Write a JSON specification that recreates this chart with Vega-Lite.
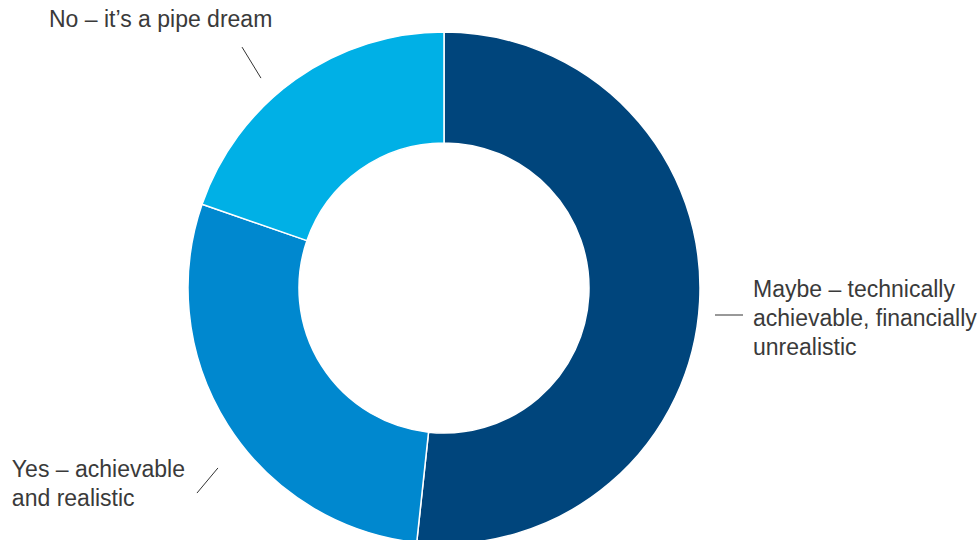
{
  "$schema": "https://vega.github.io/schema/vega-lite/v6.json",
  "width": 979,
  "height": 540,
  "autosize": {"type": "none"},
  "padding": 0,
  "background": "white",
  "config": {"view": {"stroke": null}},
  "datasets": {
    "slices": [
      {"answer": "Maybe – technically achievable, financially unrealistic", "share": 51.7, "rank": 1},
      {"answer": "Yes – achievable and realistic", "share": 28.6, "rank": 2},
      {"answer": "No – it’s a pipe dream", "share": 19.7, "rank": 3}
    ],
    "labels": [
      {"text": "No – it’s a pipe dream", "lx": -1.543, "ly": 1.0195},
      {"text": "Maybe – technically\nachievable, financially\nunrealistic", "lx": 1.207, "ly": -0.035},
      {"text": "Yes – achievable\nand realistic", "lx": -1.688, "ly": -0.738}
    ],
    "leaders": [
      {"ax": -0.789, "ay": 0.941, "bx": -0.715, "by": 0.820},
      {"ax": 1.0586, "ay": -0.1055, "bx": 1.168, "by": -0.1055},
      {"ax": -0.965, "ay": -0.801, "bx": -0.883, "by": -0.703}
    ]
  },
  "layer": [
    {
      "data": {"name": "slices"},
      "mark": {"type": "arc", "outerRadius": 256, "innerRadius": 145, "stroke": "white", "strokeWidth": 1.5},
      "encoding": {
        "x": {"datum": 0, "type": "quantitative", "scale": {"domain": [-1.734375, 2.08984], "nice": false, "zero": false}, "axis": null},
        "y": {"datum": 0, "type": "quantitative", "scale": {"domain": [-0.984375, 1.125], "nice": false, "zero": false}, "axis": null},
        "theta": {"field": "share", "type": "quantitative", "stack": true},
        "order": {"field": "rank", "type": "quantitative"},
        "color": {
          "field": "answer",
          "type": "nominal",
          "scale": {
            "domain": ["Maybe – technically achievable, financially unrealistic", "Yes – achievable and realistic", "No – it’s a pipe dream"],
            "range": ["#00457c", "#0088cf", "#00b0e6"]
          },
          "legend": null
        }
      }
    },
    {
      "data": {"name": "leaders"},
      "mark": {"type": "rule", "stroke": "#333333", "strokeWidth": 1},
      "encoding": {
        "x": {"field": "ax", "type": "quantitative"},
        "y": {"field": "ay", "type": "quantitative"},
        "x2": {"field": "bx"},
        "y2": {"field": "by"}
      }
    },
    {
      "data": {"name": "labels"},
      "mark": {"type": "text", "align": "left", "baseline": "alphabetic", "font": "Liberation Sans", "fontSize": 23, "lineHeight": 29, "lineBreak": "\n", "color": "#3a3a3a"},
      "encoding": {
        "x": {"field": "lx", "type": "quantitative"},
        "y": {"field": "ly", "type": "quantitative"},
        "text": {"field": "text", "type": "nominal"}
      }
    }
  ]
}
